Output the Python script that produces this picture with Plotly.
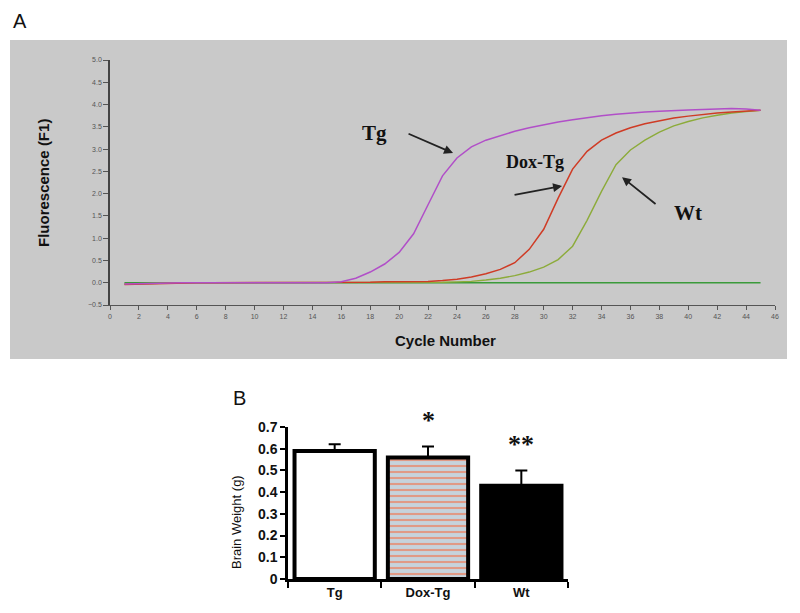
import plotly.graph_objects as go

# ---- Panel A data: real-time PCR amplification curves ----
cycles = list(range(1, 46))
tg = [-0.03, -0.02, -0.02, -0.01, 0.0, 0.0, 0.0, 0.0, 0.0, 0.0,
      0.0, 0.0, 0.0, 0.0, 0.0, 0.02, 0.1, 0.24, 0.42, 0.68,
      1.1, 1.75, 2.4, 2.8, 3.05, 3.2, 3.3, 3.4, 3.48, 3.55,
      3.61, 3.66, 3.71, 3.75, 3.78, 3.81, 3.83, 3.85, 3.87, 3.88,
      3.89, 3.9, 3.91, 3.9, 3.87]
dox_tg = [-0.04, -0.03, -0.02, -0.01, 0.0, 0.0, 0.0, 0.0, 0.0, 0.0,
          0.0, 0.0, 0.0, 0.0, 0.0, 0.0, 0.01, 0.01, 0.02, 0.02,
          0.03, 0.03, 0.05, 0.08, 0.13, 0.2, 0.3, 0.45, 0.75, 1.2,
          1.9, 2.55, 2.95, 3.2, 3.36, 3.48, 3.57, 3.64, 3.7, 3.74,
          3.78, 3.81, 3.83, 3.85, 3.87]
wt = [-0.03, -0.02, -0.02, -0.01, 0.0, 0.0, 0.0, 0.0, 0.0, 0.0,
      0.0, 0.0, 0.0, 0.0, 0.0, 0.0, 0.0, 0.0, 0.0, 0.0,
      0.0, 0.01, 0.01, 0.02, 0.03, 0.06, 0.1, 0.16, 0.24, 0.35,
      0.52, 0.82, 1.4, 2.05, 2.65, 2.98, 3.2, 3.38, 3.52, 3.62,
      3.7, 3.76, 3.81, 3.84, 3.87]
ntc = [0.0] * 45

# ---- Panel B data: brain weight ----
groups = ["Tg", "Dox-Tg", "Wt"]
brain_weight = [0.59, 0.56, 0.43]
brain_sem = [0.03, 0.05, 0.07]
sig_marks = ["", "*", "**"]

W, H = 800, 613
OFF = 8  # page body margin offset of the rendered figure
def px(x):
    return (x - OFF) / W
def py(y):
    return 1 - (y - OFF) / H

fig = go.Figure()

line_specs = [
    (ntc, "#3a9a3a", 1.4),
    (wt, "#8cab3a", 1.4),
    (dox_tg, "#cf3b25", 1.5),
    (tg, "#b14fc8", 1.5),
]
for ys, col, w in line_specs:
    fig.add_trace(go.Scatter(x=cycles, y=ys, mode="lines",
                             line=dict(color=col, width=w),
                             xaxis="x", yaxis="y", showlegend=False))

bar_styles = [
    dict(color="white"),
    dict(color="#c6d3dc", pattern=dict(shape="-", fgcolor="#e09a86", fgopacity=1,
                                       bgcolor="#c6d3dc", size=6, solidity=0.35,
                                       fillmode="replace")),
    dict(color="black"),
]
for g, v, e, st in zip(groups, brain_weight, brain_sem, bar_styles):
    fig.add_trace(go.Bar(
        x=[g], y=[v], width=0.86,
        marker=dict(line=dict(color="black", width=4), **st),
        error_y=dict(type="data", symmetric=False, array=[e], arrayminus=[0],
                     color="black", thickness=2, width=6),
        xaxis="x2", yaxis="y2", showlegend=False))

def txt(text, x, y, size, family="Arial", angle=0, xref="paper", yref="paper"):
    return dict(text=text, x=x, y=y, xref=xref, yref=yref, showarrow=False,
                xanchor="center", yanchor="middle", textangle=angle, borderpad=0,
                font=dict(family=family, size=size, color="#111"))

annotations = [
    txt("A", px(20), py(21), 20),
    txt("B", px(240), py(398), 20),
    txt("<b>Fluorescence (F1)</b>", px(43), py(183), 15, angle=-90),
    txt("<b>Cycle Number</b>", px(445), py(340), 15),
    txt("<b>Tg</b>", 18.33, 3.36, 21, "Times New Roman", xref="x", yref="y"),
    txt("<b>Dox-Tg</b>", 29.4, 2.71, 18, "Times New Roman", xref="x", yref="y"),
    txt("<b>Wt</b>", 39.98, 1.56, 21, "Times New Roman", xref="x", yref="y"),
    txt("Brain Weight (g)", px(236), py(522), 13, angle=-90),
]
arrow_common = dict(xref="x", yref="y", showarrow=True, arrowhead=2, arrowsize=1,
                    arrowwidth=1.8, arrowcolor="#222", text="")
annotations.append(dict(x=23.73, y=2.91, ax=-46, ay=-20, **arrow_common))
annotations.append(dict(x=31.27, y=2.17, ax=-49, ay=9, **arrow_common))
annotations.append(dict(x=35.42, y=2.37, ax=35, ay=28, **arrow_common))
# significance marks above the error bars
for i, (m, v, e) in enumerate(zip(sig_marks, brain_weight, brain_sem)):
    if m:
        annotations.append(dict(text="<b>" + m + "</b>", x=i, y=v + e + 0.045,
                                xref="x2", yref="y2", yanchor="bottom", xanchor="center",
                                showarrow=False,
                                font=dict(family="Times New Roman", size=26, color="#111")))

shapes = [dict(type="rect", xref="paper", yref="paper",
               x0=px(10), x1=px(787), y0=py(359), y1=py(40),
               fillcolor="#c9c9c9", line=dict(width=0), layer="below")]

tick_font_a = dict(family="Arial", size=7, color="#555")
fig.update_layout(
    template="none",
    width=W, height=H, margin=dict(l=0, r=0, t=0, b=0, pad=0, autoexpand=False),
    paper_bgcolor="white", plot_bgcolor="rgba(0,0,0,0)", showlegend=False,
    shapes=shapes, annotations=annotations, barmode="overlay",
    xaxis=dict(domain=[px(110), px(775)], range=[0, 46], anchor="y", automargin=False,
               tickmode="linear", tick0=0, dtick=2, ticks="outside", ticklen=4,
               tickcolor="#555", showline=True, linecolor="#555", linewidth=1.2,
               showgrid=False, zeroline=False, tickfont=tick_font_a),
    yaxis=dict(domain=[py(305), py(60)], range=[-0.5, 5.0], anchor="x", automargin=False,
               tickmode="linear", tick0=-0.5, dtick=0.5, tickformat=".1f",
               ticks="outside", ticklen=5, tickcolor="#555",
               showline=True, linecolor="#444", linewidth=1.5,
               showgrid=False, zeroline=False, tickfont=tick_font_a),
    xaxis2=dict(domain=[px(288), px(568)], range=[-0.5, 2.5], anchor="y2", automargin=False,
                type="category", categoryorder="array", categoryarray=groups,
                tickson="boundaries", ticks="outside", ticklen=6,
                tickwidth=2, tickcolor="black", showline=True, linecolor="black",
                linewidth=2.5, showgrid=False, tickprefix="<b>", ticksuffix="</b>",
                tickfont=dict(family="Arial", size=13, color="#111")),
    yaxis2=dict(domain=[py(579), py(427)], range=[0, 0.7], anchor="x2", automargin=False,
                tickmode="linear", tick0=0, dtick=0.1, ticks="outside", ticklen=5,
                tickwidth=2, tickcolor="black", showline=True, linecolor="black",
                linewidth=2.5, showgrid=False, zeroline=False,
                tickfont=dict(family="Arial", size=14, color="#111"),
                tickprefix="<b>", ticksuffix="</b>"),
)

fig.write_html("out.html")
